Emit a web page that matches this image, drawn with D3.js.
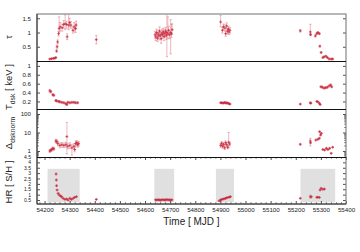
<!DOCTYPE html>
<html>
<head>
<meta charset="utf-8">
<script src="https://cdnjs.cloudflare.com/ajax/libs/d3/7.8.5/d3.min.js"></script>
<style>
body { margin: 0; background: #fff; }
svg { display: block; font-family: "Liberation Sans", Arial, sans-serif; }
</style>
</head>
<body>
<svg id="chart" width="360" height="252"></svg>
<script>
// light curve panels: [mjd, value, low, high]

var tauData = [
	[54221, 0.07, 0.05, 0.09], [54228, 0.08, 0.06, 0.10], [54235, 0.09, 0.07, 0.11],
	[54241, 0.10, 0.08, 0.12], [54245, 0.12, 0.10, 0.14], [54248, 0.35, 0.31, 0.39],
	[54250, 0.50, 0.45, 0.55], [54252, 0.67, 0.60, 0.74], [54256, 0.96, 0.88, 1.04],
	[54258, 1.14, 1.00, 1.55], [54262, 1.20, 1.05, 1.35], [54270, 1.17, 1.05, 1.30],
	[54276, 1.28, 1.15, 1.42], [54282, 1.31, 1.10, 1.62], [54288, 1.28, 1.15, 1.40],
	[54290, 0.85, 0.75, 0.95], [54296, 1.26, 1.10, 1.70], [54300, 1.35, 1.20, 1.50],
	[54305, 1.26, 1.15, 1.38], [54313, 1.08, 0.98, 1.20], [54318, 1.20, 1.05, 1.35],
	[54323, 1.14, 1.00, 1.30], [54326, 1.26, 1.12, 1.40],
	[54406, 0.75, 0.60, 0.90],
	[54640, 0.92, 0.80, 1.05], [54643, 0.85, 0.72, 0.98], [54646, 1.00, 0.88, 1.12],
	[54649, 0.80, 0.68, 0.93], [54652, 0.95, 0.82, 1.08], [54655, 0.88, 0.74, 1.00],
	[54658, 1.05, 0.90, 1.20], [54661, 0.90, 0.78, 1.02], [54664, 0.78, 0.62, 0.95],
	[54667, 0.98, 0.85, 1.12], [54670, 0.93, 0.80, 1.07], [54673, 1.02, 0.88, 1.15],
	[54676, 0.86, 0.72, 1.00], [54679, 0.97, 0.83, 1.10], [54682, 1.05, 0.92, 1.18],
	[54685, 0.90, 0.76, 1.03], [54687, 1.00, 0.15, 1.68], [54691, 0.95, 0.80, 1.55],
	[54694, 1.08, 0.95, 1.22], [54697, 0.92, 0.78, 1.06], [54702, 1.00, 0.25, 1.45],
	[54705, 0.95, 0.82, 1.30], [54708, 1.10, 0.95, 1.30],
	[54901, 1.37, 1.20, 1.60], [54908, 1.08, 0.98, 1.18], [54912, 1.20, 1.10, 1.30],
	[54918, 1.16, 1.05, 1.27], [54921, 0.96, 0.87, 1.05], [54925, 1.23, 1.12, 1.34],
	[54928, 1.05, 0.95, 1.15], [54932, 1.12, 1.02, 1.22], [54934, 1.02, 0.93, 1.12],
	[54938, 1.08, 0.98, 1.18],
	[55218, 1.06, 1.02, 1.10], [55258, 1.02, 0.90, 1.29], [55259, 0.93, 0.89, 0.97],
	[55278, 0.88, 0.85, 0.92], [55284, 0.96, 0.93, 0.99], [55288, 1.00, 0.97, 1.03],
	[55294, 0.96, 0.93, 0.99], [55296, 0.52, 0.49, 0.55], [55301, 0.30, 0.27, 0.33],
	[55308, 0.12, 0.10, 0.14], [55313, 0.15, 0.13, 0.17], [55320, 0.17, 0.15, 0.19],
	[55326, 0.12, 0.10, 0.14], [55333, 0.07, 0.05, 0.09], [55341, 0.07, 0.05, 0.09],
	[55347, 0.07, 0.05, 0.09]
];

var tdskData = [
	[54221, 0.44, 0.41, 0.47], [54225, 0.42, 0.39, 0.45], [54233, 0.35, 0.33, 0.37],
	[54237, 0.34, 0.32, 0.36], [54245, 0.22, 0.20, 0.24], [54249, 0.21, 0.19, 0.23],
	[54257, 0.20, 0.18, 0.22], [54261, 0.19, 0.17, 0.21], [54269, 0.18, 0.16, 0.20],
	[54277, 0.17, 0.15, 0.19], [54285, 0.15, 0.13, 0.17], [54289, 0.13, 0.11, 0.16],
	[54293, 0.18, 0.16, 0.20], [54301, 0.17, 0.15, 0.19], [54309, 0.18, 0.16, 0.20],
	[54317, 0.18, 0.16, 0.20], [54324, 0.17, 0.15, 0.19], [54332, 0.17, 0.15, 0.19],
	[54901, 0.17, 0.16, 0.18], [54905, 0.17, 0.16, 0.18], [54910, 0.16, 0.15, 0.17],
	[54914, 0.17, 0.16, 0.18], [54918, 0.18, 0.17, 0.19], [54922, 0.16, 0.15, 0.17],
	[54926, 0.17, 0.16, 0.18], [54930, 0.16, 0.15, 0.17], [54934, 0.15, 0.14, 0.16],
	[54938, 0.14, 0.13, 0.15],
	[55218, 0.14, 0.13, 0.15], [55258, 0.17, 0.16, 0.18], [55260, 0.16, 0.15, 0.17],
	[55284, 0.20, 0.19, 0.21], [55288, 0.19, 0.18, 0.20], [55294, 0.16, 0.15, 0.17],
	[55297, 0.13, 0.12, 0.14], [55300, 0.53, 0.51, 0.55], [55306, 0.52, 0.50, 0.54],
	[55313, 0.50, 0.48, 0.52], [55319, 0.51, 0.49, 0.53], [55326, 0.52, 0.50, 0.54],
	[55333, 0.55, 0.53, 0.57], [55339, 0.57, 0.55, 0.59], [55343, 0.53, 0.51, 0.55]
];

var normData = [
	[54221, 1.0, 0.85, 1.2], [54225, 1.1, 0.95, 1.3], [54229, 1.2, 1.0, 1.4],
	[54233, 1.4, 1.2, 1.6], [54237, 1.3, 1.1, 1.5], [54245, 3.5, 2.8, 4.3],
	[54249, 3.2, 2.6, 4.0], [54253, 2.5, 1.9, 3.2], [54261, 2.0, 1.5, 2.7],
	[54269, 2.2, 1.6, 2.9], [54277, 2.0, 1.5, 2.7], [54285, 2.2, 1.6, 3.0],
	[54289, 6.0, 0.7, 35], [54293, 1.8, 1.3, 2.5], [54301, 2.0, 1.4, 2.8],
	[54309, 1.5, 0.6, 2.2], [54317, 1.8, 1.3, 2.5], [54320, 1.2, 0.9, 1.6],
	[54324, 2.5, 1.8, 3.4], [54328, 2.8, 2.0, 3.6], [54332, 2.2, 1.6, 3.0],
	[54336, 2.5, 1.8, 3.3],
	[54901, 2.0, 1.6, 2.5], [54905, 2.6, 2.1, 3.2], [54909, 1.8, 1.4, 2.3],
	[54913, 2.3, 1.8, 2.9], [54917, 1.5, 1.2, 1.9], [54921, 2.8, 2.2, 3.5],
	[54925, 2.2, 1.7, 2.8], [54929, 1.6, 1.3, 2.0], [54933, 3.0, 1.5, 10],
	[54937, 2.4, 1.9, 3.0],
	[55218, 2.3, 2.1, 2.5], [55258, 3.5, 1.9, 4.9], [55259, 2.8, 2.6, 3.0],
	[55280, 3.9, 3.6, 4.2], [55288, 4.3, 4.0, 4.6], [55294, 4.9, 4.6, 5.2],
	[55295, 11, 10, 12], [55299, 7.3, 6.8, 7.8], [55302, 9.0, 8.4, 9.6],
	[55308, 1.2, 1.1, 1.3], [55315, 1.13, 1.05, 1.2], [55322, 1.4, 1.3, 1.5],
	[55328, 1.2, 1.1, 1.3], [55335, 1.4, 1.3, 1.5], [55341, 0.75, 0.7, 0.8],
	[55347, 1.6, 1.5, 1.7]
];

var hrData = [
	[54246, 2.92, 2.85, 2.99], [54247, 2.36, 2.30, 2.42], [54248, 1.83, 1.78, 1.88],
	[54250, 1.43, 1.39, 1.47], [54254, 1.12, 1.09, 1.15], [54258, 0.97, 0.94, 1.00],
	[54264, 0.87, 0.84, 0.90], [54268, 0.81, 0.78, 0.84], [54274, 0.66, 0.63, 0.69],
	[54281, 0.56, 0.53, 0.59], [54288, 0.60, 0.57, 0.63], [54294, 0.50, 0.47, 0.53],
	[54301, 0.66, 0.63, 0.69], [54307, 0.56, 0.53, 0.59], [54314, 0.66, 0.63, 0.69],
	[54320, 0.75, 0.72, 0.78], [54327, 0.81, 0.78, 0.84],
	[54406, 0.56, 0.53, 0.59],
	[54642, 0.52, 0.50, 0.54], [54647, 0.50, 0.48, 0.52], [54652, 0.53, 0.51, 0.55],
	[54657, 0.51, 0.49, 0.53], [54662, 0.49, 0.47, 0.51], [54667, 0.52, 0.50, 0.54],
	[54672, 0.54, 0.52, 0.56], [54677, 0.50, 0.48, 0.52], [54682, 0.52, 0.50, 0.54],
	[54687, 0.55, 0.53, 0.57], [54692, 0.51, 0.49, 0.53], [54697, 0.53, 0.51, 0.55],
	[54702, 0.50, 0.48, 0.52], [54707, 0.52, 0.50, 0.54],
	[54895, 0.42, 0.40, 0.44], [54900, 0.50, 0.48, 0.52], [54905, 0.55, 0.53, 0.57],
	[54910, 0.58, 0.56, 0.60], [54915, 0.62, 0.60, 0.64], [54920, 0.65, 0.63, 0.67],
	[54925, 0.70, 0.68, 0.72], [54930, 0.74, 0.72, 0.76], [54936, 0.78, 0.76, 0.80],
	[54940, 0.81, 0.79, 0.83],
	[55218, 0.66, 0.63, 0.69], [55258, 0.81, 0.66, 0.96], [55262, 0.80, 0.77, 0.83],
	[55284, 0.75, 0.72, 0.78], [55288, 0.76, 0.73, 0.79], [55294, 0.74, 0.71, 0.77],
	[55297, 1.43, 1.39, 1.47], [55301, 1.59, 1.55, 1.63], [55308, 1.50, 1.46, 1.54],
	[55314, 1.52, 1.48, 1.56]
];

// grey intervals in the HR panel [start, end]
var hrBands = [[54212, 54340], [54637, 54716], [54882, 54954], [55219, 55357]];
var bandLow = 0.3, bandHigh = 3.4;

var mjdTicks = d3.range(54200, 55401, 100);
var tauTicks = [0.5, 1, 1.5];
var tdskTicks = [0.2, 0.4, 0.6, 0.8, 1];
var normTicks = [1, 10, 100];
var hrTicks = [0.5, 1, 1.5, 2, 2.5, 3, 3.5, 4, 4.5];

var left = 37, right = 346;
var red = '#c8283c';

var svg = d3.select('#chart');

var x = d3.scaleLinear().domain([54170, 55400]).range([left, right]);

var panels = [
	{id: 'tau', data: tauData, top: 14, bottom: 61, ticks: tauTicks, fs: 6.2,
		y: d3.scaleLinear().domain([0, 1.65]).range([61, 14])},
	{id: 'tdsk', data: tdskData, top: 61, bottom: 109, ticks: tdskTicks, fs: 6.2,
		y: d3.scaleLinear().domain([0.03, 1.11]).range([109, 61])},
	{id: 'norm', data: normData, top: 109, bottom: 157, ticks: normTicks, fs: 6.2, log: true,
		y: d3.scaleLog().domain([0.474, 186]).range([157, 109])},
	{id: 'hr', data: hrData, top: 157, bottom: 204, ticks: hrTicks, fs: 5,
		y: d3.scaleLinear().domain([0.13, 4.5]).range([204, 157])}
];

var noDomain = function(g){
	g.select('.domain').remove();
	g.selectAll('line').attr('stroke', '#222').attr('stroke-width', 0.8);
	g.selectAll('text').attr('fill', '#222');
};

panels.forEach(function(p){
	var g = svg.append('g');

	g.append('clipPath').attr('id', 'clip-' + p.id)
		.append('rect').attr('x', left).attr('y', p.top)
		.attr('width', right - left).attr('height', p.bottom - p.top);

	if(p.id === 'hr'){
		g.selectAll('.band').data(hrBands).enter().append('rect')
			.attr('x', function(d){ return x(d[0]); })
			.attr('width', function(d){ return x(d[1]) - x(d[0]); })
			.attr('y', p.y(bandHigh))
			.attr('height', p.y(bandLow) - p.y(bandHigh))
			.attr('fill', '#e0e0e0');
	}

	// y axes, ticks pointing into the panel
	g.append('g').attr('transform', 'translate(' + left + ',0)')
		.call(d3.axisLeft(p.y).tickValues(p.ticks).tickSize(-3).tickPadding(6)
			.tickFormat(d3.format('~g')))
		.call(noDomain)
		.attr('font-size', p.fs).attr('font-family', null);
	g.append('g').attr('transform', 'translate(' + right + ',0)')
		.call(d3.axisRight(p.y).tickValues(p.ticks).tickSize(-3).tickFormat(''))
		.call(noDomain);

	if(p.log){
		var minor = [];
		[1, 10].forEach(function(dec){
			for(var k = 2; k < 10; k++){ minor.push(dec * k); }
		});
		minor.push(0.5, 0.6, 0.7, 0.8, 0.9);
		g.append('g').attr('transform', 'translate(' + left + ',0)')
			.call(d3.axisLeft(p.y).tickValues(minor).tickSize(-1.6).tickFormat(''))
			.call(noDomain);
		g.append('g').attr('transform', 'translate(' + right + ',0)')
			.call(d3.axisRight(p.y).tickValues(minor).tickSize(-1.6).tickFormat(''))
			.call(noDomain);
	}

	var pts = g.append('g').attr('clip-path', 'url(#clip-' + p.id + ')');

	// error bars
	pts.selectAll('.err').data(p.data).enter().append('path')
		.attr('d', function(d){
			var cx = x(d[0]), lo = p.y(d[2]), hi = p.y(d[3]);
			return 'M' + cx + ',' + lo + 'V' + hi +
				'M' + (cx - 1.2) + ',' + lo + 'H' + (cx + 1.2) +
				'M' + (cx - 1.2) + ',' + hi + 'H' + (cx + 1.2);
		})
		.attr('stroke', '#d96b79').attr('stroke-width', 0.6).attr('fill', 'none')
		.attr('opacity', 0.8);

	// points as small crosses
	pts.selectAll('.pt').data(p.data).enter().append('path')
		.attr('d', function(d){
			var cx = x(d[0]), cy = p.y(d[1]);
			return 'M' + (cx - 1.4) + ',' + cy + 'H' + (cx + 1.4) +
				'M' + cx + ',' + (cy - 1.4) + 'V' + (cy + 1.4);
		})
		.attr('stroke', red).attr('stroke-width', 0.85).attr('fill', 'none')
		.attr('opacity', 0.9);
});

// x axis only on the bottom panel, top and bottom edges
var minorMjd = d3.range(54180, 55400, 20).filter(function(v){ return v % 100 !== 0; });
var hrTop = panels[3].top, hrBottom = panels[3].bottom;

svg.append('g').attr('transform', 'translate(0,' + hrBottom + ')')
	.call(d3.axisBottom(x).tickValues(mjdTicks).tickSize(-3).tickPadding(4)
		.tickFormat(d3.format('d')))
	.call(noDomain)
	.attr('font-size', 6.2).attr('font-family', null);
svg.append('g').attr('transform', 'translate(0,' + hrBottom + ')')
	.call(d3.axisBottom(x).tickValues(minorMjd).tickSize(-1.6).tickFormat(''))
	.call(noDomain);
svg.append('g').attr('transform', 'translate(0,' + hrTop + ')')
	.call(d3.axisTop(x).tickValues(mjdTicks).tickSize(-3).tickFormat(''))
	.call(noDomain);
svg.append('g').attr('transform', 'translate(0,' + hrTop + ')')
	.call(d3.axisTop(x).tickValues(minorMjd).tickSize(-1.6).tickFormat(''))
	.call(noDomain);

// frame and panel separators
svg.append('rect').attr('x', left).attr('y', 14)
	.attr('width', right - left).attr('height', hrBottom - 14)
	.attr('fill', 'none').attr('stroke', '#888').attr('stroke-width', 1.2);
svg.append('line').attr('x1', left).attr('x2', left).attr('y1', 14).attr('y2', hrBottom)
	.attr('stroke', '#333').attr('stroke-width', 1);
svg.append('line').attr('x1', left).attr('x2', right).attr('y1', hrBottom).attr('y2', hrBottom)
	.attr('stroke', '#333').attr('stroke-width', 1);
svg.selectAll('.sep').data(panels.slice(1)).enter().append('line')
	.attr('x1', left).attr('x2', right)
	.attr('y1', function(p){ return p.top + 0.5; })
	.attr('y2', function(p){ return p.top + 0.5; })
	.attr('stroke', '#111').attr('stroke-width', 1);

// axis titles
var ytitle = function(cy, main, sub, rest){
	var t = svg.append('text')
		.attr('transform', 'translate(12,' + cy + ') rotate(-90)')
		.attr('text-anchor', 'middle').attr('font-size', 9.5).attr('fill', '#222');
	t.append('tspan').text(main);
	if(sub){ t.append('tspan').attr('font-size', 6.8).attr('dy', 2.5).text(sub); }
	if(rest){ t.append('tspan').attr('dy', sub ? -2.5 : 0).text(rest); }
};
ytitle(37, 'τ');
ytitle(87, 'T', 'dsk', ' [ keV ]');
ytitle(133, 'Δ', 'dsknorm');
ytitle(182, 'HR [ S/H ]');

svg.append('text').attr('x', (left + right) / 2).attr('y', 225)
	.attr('text-anchor', 'middle').attr('font-size', 10).attr('fill', '#222')
	.text('Time [ MJD ]');
</script>
</body>
</html>
